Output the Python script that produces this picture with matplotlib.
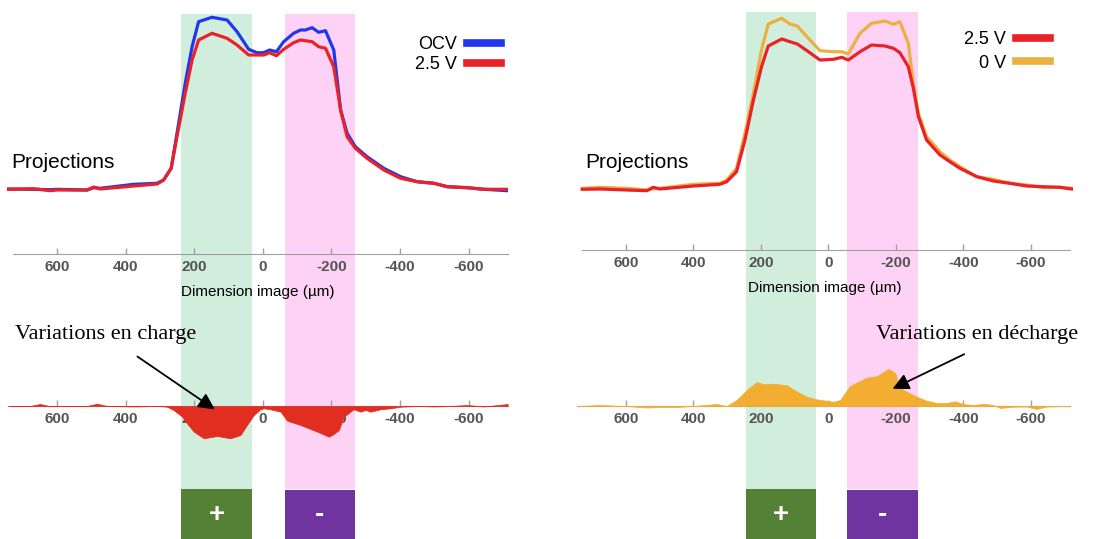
import matplotlib.pyplot as plt
from matplotlib.lines import Line2D

plt.rcParams['axes.unicode_minus'] = False
plt.rcParams['font.family'] = ['Liberation Sans', 'DejaVu Sans']

W, H = 1108, 539
ticks = [600, 400, 200, 0, -200, -400, -600]

# ---- charge (left panel) ----
x_charge = [742, 668, 619, 600, 512, 493, 474, 376, 308, 289, 267, 250, 226, 206, 187,
            148, 104, 75, 41, 17, -3, -20, -40, -61, -90, -110, -124, -144, -163, -183,
            -207, -227, -246, -270, -304, -353, -402, -450, -499, -538, -596, -645, -714]
ocv = [0.650, 0.647, 0.643, 0.647, 0.640, 0.663, 0.657, 0.697, 0.707, 0.740, 0.857, 1.207,
       1.707, 2.073, 2.323, 2.367, 2.340, 2.223, 2.047, 2.013, 2.013, 2.040, 2.023, 2.123,
       2.207, 2.240, 2.240, 2.263, 2.217, 2.233, 2.040, 1.440, 1.207, 1.073, 0.973, 0.857,
       0.773, 0.723, 0.707, 0.673, 0.663, 0.647, 0.633]
v25_charge = [0.647, 0.653, 0.633, 0.640, 0.640, 0.670, 0.650, 0.680, 0.700, 0.740, 0.857,
              1.173, 1.607, 1.940, 2.140, 2.207, 2.157, 2.090, 1.990, 1.990, 1.990, 2.013,
              1.983, 2.047, 2.113, 2.140, 2.133, 2.123, 2.073, 2.057, 1.873, 1.440, 1.173,
              1.057, 0.957, 0.840, 0.757, 0.723, 0.707, 0.673, 0.663, 0.647, 0.647]
x_diff_charge = [742, 678, 649, 619, 571, 512, 483, 454, 376, 308, 279, 260, 235, 221, 201,
                 172, 133, 94, 65, 46, 26, 7, -3, -22, -52, -71, -110, -159, -193, -207,
                 -222, -236, -265, -285, -300, -314, -343, -372, -402, -450, -499, -548,
                 -596, -645, -714]
diff_charge = [0.0, 0.0, 0.02, -0.003, 0.0, 0.0, 0.023, 0.0, -0.005, 0.0, -0.007, -0.04,
               -0.107, -0.173, -0.257, -0.323, -0.300, -0.323, -0.290, -0.190, -0.090,
               -0.033, -0.023, -0.033, -0.057, -0.147, -0.190, -0.257, -0.307, -0.280,
               -0.240, -0.107, -0.033, -0.057, -0.040, -0.057, -0.033, -0.023, -0.007,
               0.0, -0.005, 0.0, 0.01, -0.005, 0.02]
green_charge = (239, 30)
pink_charge = (-64, -269)

# ---- discharge (right panel) ----
x_dis = [729, 677, 598, 538, 519, 499, 400, 321, 301, 272, 247, 222, 198, 178, 138, 114,
         92, 59, 25, -15, -40, -59, -94, -128, -168, -193, -212, -237, -252, -267, -291,
         -331, -360, -390, -440, -489, -538, -588, -637, -686, -726]
v25_dis = [0.607, 0.610, 0.600, 0.593, 0.627, 0.610, 0.640, 0.657, 0.683, 0.783, 1.100,
           1.500, 1.833, 2.040, 2.110, 2.083, 2.060, 1.983, 1.900, 1.907, 1.927, 1.900,
           1.983, 2.050, 2.040, 2.017, 1.973, 1.833, 1.617, 1.333, 1.100, 0.950, 0.883,
           0.817, 0.733, 0.690, 0.667, 0.640, 0.633, 0.627, 0.607]
v0 = [0.617, 0.627, 0.617, 0.600, 0.613, 0.617, 0.657, 0.667, 0.700, 0.817, 1.167, 1.567,
      2.000, 2.260, 2.317, 2.260, 2.240, 2.117, 1.993, 1.983, 1.983, 1.960, 2.167, 2.267,
      2.290, 2.257, 2.283, 2.067, 1.667, 1.367, 1.133, 0.983, 0.900, 0.833, 0.733, 0.707,
      0.667, 0.650, 0.623, 0.627, 0.617]
x_diff_dis = [744, 677, 598, 538, 499, 449, 400, 331, 301, 272, 242, 212, 193, 163, 123, 94,
              64, 35, 0, -15, -35, -64, -94, -114, -143, -178, -198, -212, -232, -262,
              -291, -321, -351, -375, -400, -430, -464, -489, -509, -548, -588, -617,
              -647, -713]
diff_dis = [0.0, 0.01, 0.0, -0.015, -0.01, -0.01, 0.0, 0.02, 0.0, 0.06, 0.16, 0.24, 0.22,
            0.223, 0.207, 0.147, 0.093, 0.067, 0.05, 0.043, 0.06, 0.20, 0.25, 0.283, 0.297,
            0.37, 0.33, 0.183, 0.143, 0.093, 0.053, 0.03, 0.03, 0.047, 0.02, 0.01, 0.023,
            0.01, -0.02, -0.007, -0.005, -0.03, -0.005, 0.0]
green_dis = (245, 38)
pink_dis = (-55, -265)

BLUE = '#2136f0'
RED = '#ea2228'
ORANGE = '#ebb03f'


def px_rect(x0, y0, x1, y1):
    return [x0 / W, 1 - y1 / H, (x1 - x0) / W, (y1 - y0) / H]


def style_axis(ax, bounds):
    ax.patch.set_alpha(0)
    for s in ['top', 'right', 'left']:
        ax.spines[s].set_visible(False)
    ax.spines['bottom'].set_color('#a0a0a0')
    ax.spines['bottom'].set_bounds(*bounds)
    ax.set_yticks([])
    ax.set_xticks(ticks)
    ax.tick_params(axis='x', direction='in', length=4, width=1, color='#a0a0a0',
                   labelsize=11, labelcolor='#555555', pad=4)


def draw_panel(fig, x0, x1, xlim, band_top, axis_y, green, pink, bounds):
    bg = fig.add_axes(px_rect(x0, band_top, x1, H))
    bg.set_xlim(xlim)
    bg.set_ylim(0, H - band_top)
    bg.axis('off')
    box_h = 50
    frac = box_h / (H - band_top)
    bg.axvspan(green[0], green[1], ymin=frac, ymax=1, color='#d1eedc', lw=0)
    bg.axvspan(pink[0], pink[1], ymin=frac, ymax=1, color='#fed2f4', lw=0)
    bg.bar((green[0] + green[1]) / 2, box_h, width=green[0] - green[1], color='#558136')
    bg.bar((pink[0] + pink[1]) / 2, box_h - 1, width=pink[0] - pink[1], color='#7034a0')
    bg.text((green[0] + green[1]) / 2, box_h / 2 - 1, '+', color='white', fontsize=20,
            fontweight='bold', ha='center', va='center')
    bg.text((pink[0] + pink[1]) / 2, box_h / 2 - 1, '-', color='white', fontsize=20,
            fontweight='bold', ha='center', va='center')

    top = fig.add_axes(px_rect(x0, band_top, x1, axis_y))
    top.set_xlim(xlim)
    top.set_ylim(0, (axis_y - band_top) / 100)
    style_axis(top, bounds[0])
    top.set_xlabel('Dimension image (µm)', fontsize=11, labelpad=8)

    bot = fig.add_axes(px_rect(x0, 356, x1, 456))
    bot.set_xlim(xlim)
    bot.set_ylim(-0.5, 0.5)
    bot.spines['bottom'].set_position(('data', 0))
    style_axis(bot, bounds[1])
    return top, bot


fig = plt.figure(figsize=(W / 100, H / 100), dpi=100)

# left panel
top_l, bot_l = draw_panel(fig, 7.2, 508, (745, -715), 14, 254, green_charge, pink_charge,
                          ((728, -715), (728, -715)))
top_l.plot(x_charge, ocv, color=BLUE, lw=2.3, solid_joinstyle='round')
top_l.plot(x_charge, v25_charge, color=RED, lw=2.3, solid_joinstyle='round')
handles = [Line2D([], [], color=BLUE, lw=5.5), Line2D([], [], color=RED, lw=5.5)]
top_l.legend(handles, ['OCV', '2.5 V'], loc='upper right', bbox_to_anchor=(0.986, 0.909),
             frameon=False, markerfirst=False, fontsize=13, handlelength=1.9,
             handletextpad=0.55, labelspacing=0.2, borderpad=0, borderaxespad=0)
bot_l.fill_between(x_diff_charge, diff_charge, 0, color='#e12e20', lw=0.5, zorder=3)
fig.text(11 / W, 1 - 162 / H, 'Projections', fontsize=15, va='center', ha='left')
fig.text(15 / W, 1 - 334 / H, 'Variations en charge', family='Liberation Serif',
         fontsize=16, va='center', ha='left')
bot_l.annotate('', xy=(133, -0.05), xytext=(372, 0.51), annotation_clip=False,
               arrowprops=dict(arrowstyle='-|>,head_length=0.7,head_width=0.35',
                               color='black', lw=1.3, mutation_scale=14), zorder=5)

# right panel
top_r, bot_r = draw_panel(fig, 576.9, 1073, (745, -725), 12, 250, green_dis, pink_dis,
                          ((730, -715), (745, -715)))
top_r.plot(x_dis, v0, color=ORANGE, lw=2.3, solid_joinstyle='round')
top_r.plot(x_dis, v25_dis, color=RED, lw=2.3, solid_joinstyle='round')
handles = [Line2D([], [], color=RED, lw=5.5), Line2D([], [], color=ORANGE, lw=5.5)]
top_r.legend(handles, ['2.5 V', '0 V'], loc='upper right', bbox_to_anchor=(0.954, 0.919),
             frameon=False, markerfirst=False, fontsize=13, handlelength=1.9,
             handletextpad=0.55, labelspacing=0.35, borderpad=0, borderaxespad=0)
bot_r.fill_between(x_diff_dis, diff_dis, 0, color='#f3ad30', lw=0.5, zorder=3)
fig.text(585 / W, 1 - 162 / H, 'Projections', fontsize=15, va='center', ha='left')
fig.text(1078 / W, 1 - 334 / H, 'Variations en décharge', family='Liberation Serif',
         fontsize=16, va='center', ha='right')
bot_r.annotate('', xy=(-183, 0.16), xytext=(-410, 0.53), annotation_clip=False,
               arrowprops=dict(arrowstyle='-|>,head_length=0.7,head_width=0.35',
                               color='black', lw=1.3, mutation_scale=14), zorder=5)

fig.canvas.draw()
for ax in fig.axes:
    for lbl in ax.get_xticklabels():
        lbl.set_fontweight('bold')

fig.savefig('out.png', dpi=100)
